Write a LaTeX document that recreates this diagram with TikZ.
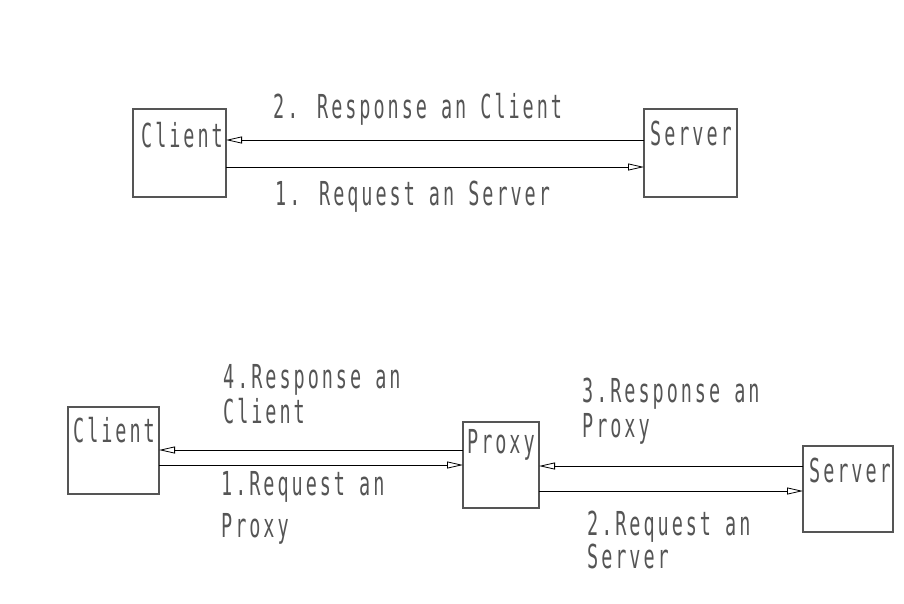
\documentclass[tikz,border=0pt]{standalone}
\usepackage{fontspec}
\usetikzlibrary{arrows.meta}
\newfontfamily\cadfont[FakeStretch=0.56, LetterSpace=9]{DejaVu Sans Mono}
\definecolor{inkgray}{HTML}{555555}
\tikzset{
  x=1pt, y=-1pt,
  box/.style={draw=inkgray, line width=1.1pt, inner sep=0pt, outer sep=0pt,
              minimum width=#1},
  box/.default=92,
  txt/.style={anchor=base west, inner sep=0pt, text=inkgray,
              font=\cadfont\fontsize{33}{38}\selectfont},
  msg/.style={draw=black, line width=0.8pt,
              -{Triangle[open, length=16pt, width=7pt, line width=0.8pt]}},
}
\begin{document}
\begin{tikzpicture}
\useasboundingbox (0,0) rectangle (904,603);

% ---- direct connection ----
\node[box=93, minimum height=88] (c1) at (179.5,153) {};
\node[box=93, minimum height=88] (s1) at (690.5,153) {};
\node[txt] (c1t) at (141,147) {Client};
\node[txt] (s1t) at (650,145) {Server};

\draw[msg] (s1.west |- 0,140) -- (c1.east |- 0,140);
\draw[msg] (c1.east |- 0,167) -- (s1.west |- 0,167);
\node[txt] (r1) at (273,118) {2. Response an Client};
\node[txt] (q1) at (275,205) {1. Request an Server};

% ---- connection through a proxy ----
\node[box=91, minimum height=87] (c2) at (113.5,450.5) {};
\node[box=76, minimum height=86] (p2) at (501,465) {};
\node[box=90, minimum height=86] (s2) at (848,489) {};
\node[txt] (c2t) at (73,442) {Client};
\node[txt] (p2t) at (467,453) {Proxy};
\node[txt] (s2t) at (809,482) {Server};

\draw[msg] (p2.west |- 0,450) -- (c2.east |- 0,450);
\draw[msg] (c2.east |- 0,465) -- (p2.west |- 0,465);
\draw[msg] (s2.west |- 0,466) -- (p2.east |- 0,466);
\draw[msg] (p2.east |- 0,491) -- (s2.west |- 0,491);

\node[txt] (r4a) at (223,388) {4.Response an};
\node[txt] (r4b) at (223,423) {Client};
\node[txt] (q1a) at (221,495) {1.Request an};
\node[txt] (q1b) at (221,537) {Proxy};
\node[txt] (r3a) at (582,402) {3.Response an};
\node[txt] (r3b) at (582,437) {Proxy};
\node[txt] (q2a) at (587,535) {2.Request an};
\node[txt] (q2b) at (587,568) {Server};
\end{tikzpicture}
\end{document}
